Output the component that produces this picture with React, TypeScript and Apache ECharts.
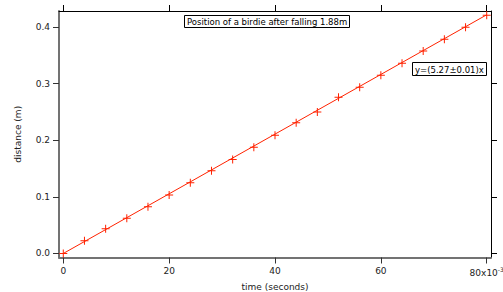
import React, { useEffect, useRef } from "react";
import * as echarts from "echarts";

const timeMs = [0, 4, 8, 12, 16, 20, 24, 28, 32, 36, 40, 44, 48, 52, 56, 60, 64, 68, 72, 76, 80];
const distance = [0.0, 0.0226, 0.0438, 0.0622, 0.0827, 0.1034, 0.125, 0.146, 0.166, 0.1876, 0.2088, 0.231, 0.25, 0.276, 0.2936, 0.3148, 0.336, 0.3578, 0.3784, 0.3996, 0.4208];
const fitX = [0, 80];
const fitY = [0, 0.4216];
const xTicks = [0, 20, 40, 60, 80];
const yTicks = [0, 0.1, 0.2, 0.3, 0.4];
const titleText = "Position of a birdie after falling 1.88m";
const fitText = "y=(5.27±0.01)x";

const RED = "#ff2200";
const GREY = "#737373";
const FONT = "DejaVu Sans";

export default function App() {
  const ref = useRef<HTMLDivElement>(null);
  useEffect(() => {
    document.body.style.margin = "0";
    const chart = echarts.init(ref.current!, null, { renderer: "svg" });
    const xMin = -0.81, xMax = 80.81, yMin = -0.0071, yMax = 0.4283;
    const common = { fontFamily: FONT, fontSize: 9, color: "#222" };
    const boxText = { fontFamily: FONT, fontSize: 8.5, color: "#000", fontWeight: "normal" };
    chart.setOption({
      animation: false,
      backgroundColor: "#fff",
      textStyle: { fontFamily: FONT },
      grid: { left: 59, top: 11, width: 432, height: 246.5, containLabel: false, outerBoundsMode: "none" },
      title: [
        {
          text: titleText,
          left: 184,
          top: 15,
          padding: [2, 3, 2, 3],
          borderColor: "#000",
          borderWidth: 1,
          textStyle: boxText,
        },
        {
          text: fitText,
          left: 412,
          top: 62,
          padding: [3, 3, 2, 3],
          borderColor: "#000",
          borderWidth: 1,
          backgroundColor: "#fff",
          textStyle: boxText,
        },
      ],
      xAxis: [
        {
          type: "value",
          position: "bottom",
          min: xMin,
          max: xMax,
          name: "time (seconds)",
          nameLocation: "middle",
          nameGap: 22,
          nameTextStyle: { ...common },
          axisLine: { show: true, onZero: false, lineStyle: { color: GREY, width: 2 } },
          axisTick: { show: true, inside: false, length: 6, customValues: xTicks, lineStyle: { color: "#333", width: 1 } },
          axisLabel: {
            ...common,
            margin: 9,
            customValues: xTicks,
            hideOverlap: false,
            formatter: (v: number) => (v === 80 ? "80x10{sup|-3}" : String(v)),
            rich: { sup: { fontFamily: FONT, fontSize: 6, verticalAlign: "top", padding: [0, 0, 7, 0], color: "#222" } },
          },
          splitLine: { show: false },
        },
        {
          type: "value",
          position: "top",
          min: xMin,
          max: xMax,
          axisLine: { show: true, onZero: false, lineStyle: { color: "#000", width: 1 } },
          axisTick: { show: true, inside: false, length: 6, customValues: xTicks, lineStyle: { color: "#000", width: 1 } },
          axisLabel: { show: false },
          splitLine: { show: false },
        },
      ],
      yAxis: [
        {
          type: "value",
          position: "left",
          min: yMin,
          max: yMax,
          name: "distance (m)",
          nameLocation: "middle",
          nameGap: 37,
          nameRotate: 90,
          nameTextStyle: { ...common },
          axisLine: { show: true, onZero: false, lineStyle: { color: GREY, width: 2 } },
          axisTick: { show: true, inside: false, length: 6, customValues: yTicks, lineStyle: { color: "#333", width: 1 } },
          axisLabel: { ...common, margin: 9, customValues: yTicks, formatter: (v: number) => v.toFixed(1) },
          splitLine: { show: false },
        },
        {
          type: "value",
          position: "right",
          min: yMin,
          max: yMax,
          axisLine: { show: true, onZero: false, lineStyle: { color: "#000", width: 1 } },
          axisTick: { show: true, inside: false, length: 6, customValues: yTicks, lineStyle: { color: "#000", width: 1 } },
          axisLabel: { show: false },
          splitLine: { show: false },
        },
      ],
      series: [
        {
          type: "line",
          data: fitX.map((x, i) => [x, fitY[i]]),
          showSymbol: false,
          symbol: "none",
          lineStyle: { color: RED, width: 1 },
          silent: true,
          z: 2,
        },
        {
          type: "scatter",
          data: timeMs.map((x, i) => [x, distance[i]]),
          symbol: "path://M0,3.5h8v1h-8z M3.5,0h1v8h-1z",
          symbolSize: 8,
          itemStyle: { color: RED, opacity: 1 },
          z: 3,
        },
      ],
    });
    return () => chart.dispose();
  }, []);
  return <div ref={ref} style={{ width: 503, height: 292 }} />;
}
